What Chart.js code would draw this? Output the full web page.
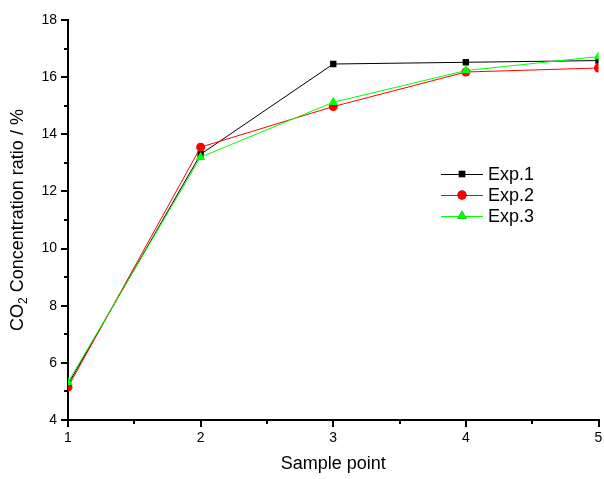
<!DOCTYPE html>
<html>
<head>
<meta charset="utf-8">
<script src="https://cdn.jsdelivr.net/npm/chart.js@4/dist/chart.umd.min.js"></script>
<style>
html,body{margin:0;padding:0;background:#fff;}
#wrap{width:604px;height:479px;position:relative;}
</style>
</head>
<body>
<div id="wrap"><canvas id="c" width="604" height="479"></canvas></div>
<script>
const categories = [1, 2, 3, 4, 5];
const exp1 = [5.25, 13.3, 16.46, 16.52, 16.58];
const exp2 = [5.15, 13.55, 14.97, 16.18, 16.32];
const exp3 = [5.32, 13.2, 15.12, 16.23, 16.72];
const seriesNames = ['Exp.1', 'Exp.2', 'Exp.3'];
const yTicks = [4, 6, 8, 10, 12, 14, 16, 18];
const xTicks = [1, 2, 3, 4, 5];

const FONT = '"Liberation Sans", Arial, sans-serif';

const styles = [
  {color:'#000000', pointStyle:'rect', radius:4.5},
  {color:'#ff0000', pointStyle:'circle', radius:4.5},
  {color:'#00ff00', pointStyle:'triangle', radius:5.5}
];

function mk(name, vals, i) {
  const s = styles[i];
  return {
    label: name,
    data: categories.map((c, k) => ({x: c, y: vals[k]})),
    borderColor: s.color,
    backgroundColor: s.color,
    borderWidth: 1,
    pointStyle: s.pointStyle,
    pointRadius: s.radius,
    pointBorderWidth: 0,
    pointBackgroundColor: s.color,
    tension: 0,
    order: 3 - i
  };
}

const minorTicks = {
  id: 'minorTicks',
  afterDraw(chart) {
    const ctx = chart.ctx;
    const xs = chart.scales.x, ys = chart.scales.y;
    const a = chart.chartArea;
    ctx.save();
    ctx.strokeStyle = '#000';
    ctx.lineWidth = 2;
    ctx.beginPath();
    for (let v = 5; v < 18; v += 2) {
      const py = Math.round(ys.getPixelForValue(v));
      ctx.moveTo(a.left - 4, py);
      ctx.lineTo(a.left, py);
    }
    for (let v = 1.5; v < 5; v += 1) {
      const px = Math.round(xs.getPixelForValue(v));
      ctx.moveTo(px, a.bottom);
      ctx.lineTo(px, a.bottom + 4);
    }
    ctx.stroke();

    // y axis title with subscript
    ctx.fillStyle = '#000';
    ctx.translate(18, 220);
    ctx.rotate(-Math.PI / 2);
    const big = '18px ' + FONT, small = '12px ' + FONT;
    ctx.font = big;
    const t1 = 'CO', t3 = ' Concentration ratio / %';
    const w1 = ctx.measureText(t1).width, w3 = ctx.measureText(t3).width;
    ctx.font = small;
    const w2 = ctx.measureText('2').width;
    const total = w1 + w2 + w3;
    let x0 = -total / 2;
    ctx.textBaseline = 'middle';
    ctx.textAlign = 'left';
    ctx.font = big;
    ctx.fillText(t1, x0, 0);
    ctx.font = small;
    ctx.fillText('2', x0 + w1, 6);
    ctx.font = big;
    ctx.fillText(t3, x0 + w1 + w2, 0);
    ctx.restore();

    // legend
    ctx.save();
    const ly = [174, 195, 216];
    chart.data.datasets.forEach((ds, i) => {
      const y = ly[i];
      ctx.strokeStyle = ds.borderColor;
      ctx.lineWidth = 1;
      ctx.beginPath();
      ctx.moveTo(441, y + 0.5);
      ctx.lineTo(483, y + 0.5);
      ctx.stroke();
      Chart.helpers.drawPoint(ctx, {pointStyle: ds.pointStyle, radius: ds.pointRadius, borderWidth: 0, rotation: 0}, 462, y);
      ctx.fillStyle = ds.borderColor;
      ctx.fill();
      ctx.fillStyle = '#000';
      ctx.font = '18px ' + FONT;
      ctx.textBaseline = 'middle';
      ctx.textAlign = 'left';
      ctx.fillText(ds.label, 488, y + 1);
    });
    ctx.restore();
  }
};

new Chart(document.getElementById('c'), {
  type: 'line',
  data: {
    datasets: [mk(seriesNames[0], exp1, 0), mk(seriesNames[1], exp2, 1), mk(seriesNames[2], exp3, 2)]
  },
  options: {
    responsive: false,
    animation: false,
    devicePixelRatio: 1,
    layout: {padding: {top: 20, right: 4, left: 0, bottom: 0}},
    plugins: {legend: {display: false}, tooltip: {enabled: false}},
    scales: {
      x: {
        type: 'linear',
        min: 1, max: 5,
        afterBuildTicks(s) { s.ticks = xTicks.map(v => ({value: v})); },
        afterFit(s) { s.height = 59; s.paddingLeft = 0; s.paddingRight = 0; },
        grid: {drawOnChartArea: false, tickLength: 7, tickColor: '#000', lineWidth: 2, tickWidth: 2},
        border: {color: '#000', width: 2},
        ticks: {color: '#000', font: {family: FONT, size: 14}, padding: 3, maxRotation: 0},
        title: {display: true, text: 'Sample point', color: '#000', font: {family: FONT, size: 18}, padding: {top: 8}}
      },
      y: {
        type: 'linear',
        min: 4, max: 18,
        afterBuildTicks(s) { s.ticks = yTicks.map(v => ({value: v})); },
        afterFit(s) { s.width = 68; s.paddingTop = 0; s.paddingBottom = 0; },
        grid: {drawOnChartArea: false, tickLength: 7, tickColor: '#000', lineWidth: 2, tickWidth: 2},
        border: {color: '#000', width: 2},
        ticks: {color: '#000', font: {family: FONT, size: 14}, padding: 4}
      }
    }
  },
  plugins: [minorTicks]
});
</script>
</body>
</html>
